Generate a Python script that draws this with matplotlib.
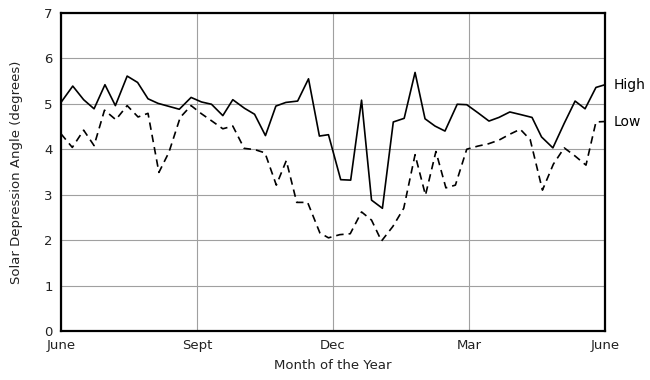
import matplotlib
matplotlib.use("Agg")
import matplotlib.pyplot as plt

# months since start of June
high_x = [0.00, 0.26, 0.50, 0.73, 0.97, 1.20, 1.46, 1.69, 1.92, 2.14, 2.61, 2.87,
          3.10, 3.32, 3.57, 3.79, 4.05, 4.27, 4.51, 4.74, 4.96, 5.22, 5.46, 5.70,
          5.90, 6.17, 6.39, 6.63, 6.85, 7.09, 7.33, 7.57, 7.81, 8.03, 8.25, 8.47,
          8.74, 8.95, 9.20, 9.44, 9.66, 9.90, 10.15, 10.39, 10.60, 10.85, 11.10,
          11.34, 11.56, 11.80, 12.00]
high_y = [5.03, 5.39, 5.09, 4.89, 5.42, 4.96, 5.61, 5.47, 5.11, 5.01, 4.88, 5.14,
          5.04, 4.99, 4.74, 5.09, 4.90, 4.77, 4.30, 4.95, 5.03, 5.06, 5.55, 4.29,
          4.32, 3.33, 3.32, 5.08, 2.88, 2.70, 4.60, 4.68, 5.69, 4.67, 4.51, 4.40,
          4.99, 4.98, 4.80, 4.62, 4.70, 4.82, 4.76, 4.70, 4.27, 4.03, 4.57,
          5.06, 4.89, 5.36, 5.42]

low_x = [0.00, 0.25, 0.50, 0.73, 0.96, 1.21, 1.46, 1.70, 1.92, 2.16, 2.38, 2.63,
         2.87, 3.10, 3.33, 3.57, 3.79, 4.04, 4.28, 4.50, 4.75, 4.97, 5.20, 5.44,
         5.71, 5.90, 6.15, 6.38, 6.63, 6.85, 7.07, 7.32, 7.56, 7.81, 8.04, 8.27,
         8.49, 8.70, 8.95, 9.20, 9.43, 9.66, 9.90, 10.13, 10.35, 10.62, 10.86,
         11.10, 11.34, 11.58, 11.80, 12.00]
low_y = [4.34, 4.04, 4.42, 4.08, 4.86, 4.65, 4.96, 4.71, 4.79, 3.49, 3.93, 4.70,
         4.96, 4.78, 4.62, 4.45, 4.51, 4.02, 3.99, 3.92, 3.21, 3.75, 2.83, 2.83,
         2.16, 2.05, 2.12, 2.14, 2.62, 2.44, 1.98, 2.30, 2.70, 3.88, 2.99, 3.95,
         3.15, 3.21, 4.00, 4.07, 4.12, 4.20, 4.33, 4.44, 4.21, 3.10, 3.67,
         4.03, 3.85, 3.65, 4.60, 4.61]

month_ticks = [0, 3, 6, 9, 12]
month_labels = ["June", "Sept", "Dec", "Mar", "June"]

fig = plt.figure(figsize=(6.5, 3.8), dpi=100)
ax = fig.add_axes([0.0938, 0.129, 0.837, 0.837])

ax.plot(high_x, high_y, color="black", lw=1.2)
ax.plot(low_x, low_y, color="black", lw=1.2, dashes=(4.5, 3))

ax.set_xlim(0, 12)
ax.set_ylim(0, 7)
ax.set_xticks(month_ticks)
ax.set_xticklabels(month_labels)
ax.set_yticks(range(8))
ax.tick_params(length=0, labelsize=9.5, pad=6, colors="#222222")
ax.grid(True, color="#a0a0a0", lw=0.8)
ax.set_axisbelow(True)
for s in ax.spines.values():
    s.set_linewidth(1.6)

ax.set_xlabel("Month of the Year", fontsize=9.5, labelpad=5, color="#222222")
ax.set_ylabel("Solar Depression Angle (degrees)", fontsize=9.5, labelpad=15,
              color="#222222")

ax.annotate("High", xy=(high_x[-1], high_y[-1]), xytext=(6, 0),
            textcoords="offset points", va="center", fontsize=10, annotation_clip=False)
ax.annotate("Low", xy=(low_x[-1], low_y[-1]), xytext=(6, 0),
            textcoords="offset points", va="center", fontsize=10, annotation_clip=False)

fig.savefig("out.png", dpi=100)
